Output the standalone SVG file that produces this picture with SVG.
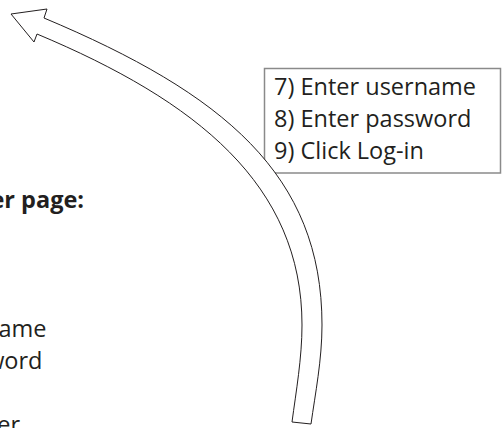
<svg xmlns="http://www.w3.org/2000/svg" width="502" height="428" viewBox="0 0 502 428">
<style>
.t{font-family:"Open Sans","Noto Sans","Liberation Sans",sans-serif;font-size:23.5px;fill:#231f20}
.b{font-weight:bold}
.box{fill:#fff;stroke:#8a8a8a;stroke-width:1.5}
.arrow{fill:#fff;stroke:#231f20;stroke-width:1}
</style>
<rect width="502" height="428" fill="#fff"/>
<g id="page-text">
<text class="t b" x="84" y="208" text-anchor="end">er page:</text>
<text class="t" x="46.5" y="337" text-anchor="end">ame</text>
<text class="t" x="42.5" y="369" text-anchor="end">word</text>
<text class="t" x="20" y="433" text-anchor="end">er</text>
</g>
<g id="steps">
<rect class="box" x="264.5" y="68.5" width="236" height="104.5"/>
<text class="t" x="274" y="95">7) Enter username</text>
<text class="t" x="274" y="127">8) Enter password</text>
<text class="t" x="274" y="158.5">9) Click Log-in</text>
</g>
<g id="connectors">
<path class="arrow" d="M292,422 C296,392 302,358 302,325 C302,185 197,101 37,34 L34,42 L11,14 L47,9 L44,18 C224,93.6 322,175 322,325 C322,360 315.2,394 311,424 Z"/>
</g>
</svg>
